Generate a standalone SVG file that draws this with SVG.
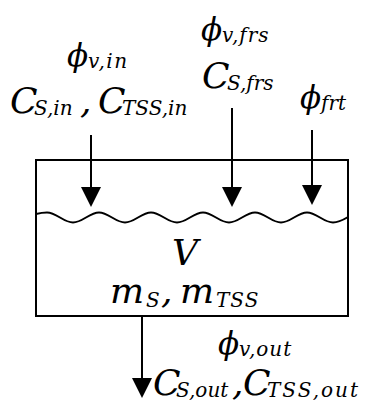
<svg xmlns="http://www.w3.org/2000/svg" width="366" height="405" viewBox="0 0 366 405">
<style>
.t{font-family:"DejaVu Serif","Liberation Serif",serif;font-style:italic;fill:#000}
.m{font-size:36px}
.p{font-size:31px}
.s{font-size:20px}
.ln{stroke:#000;stroke-width:2;fill:none}
</style>
<defs>
<marker id="ah" viewBox="0 0 20 20" refX="10" refY="10" markerWidth="20" markerHeight="20" markerUnits="userSpaceOnUse" orient="auto">
<path d="M0,0 L20,10 L0,20 z" fill="#000"/>
</marker>
</defs>
<g id="tank">
<rect x="36" y="160" width="312" height="156" class="ln"/>
<path class="ln" d="M36,214 C40,213 43,212.5 47,212.5 C56.4,212.5 63.6,222.5 73,222.5 C82.4,222.5 89.6,212.5 99,212.5 C108.4,212.5 115.6,222.5 125,222.5 C134.4,222.5 141.6,212.5 151,212.5 C160.4,212.5 167.6,222.5 177,222.5 C186.4,222.5 193.6,212.5 203,212.5 C212.4,212.5 219.6,222.5 229,222.5 C238.4,222.5 245.6,212.5 255,212.5 C264.4,212.5 271.6,222.5 281,222.5 C290.4,222.5 297.6,212.5 307,212.5 C316.4,212.5 323.6,222.5 333,222.5 C339,222.5 343,220 348,217"/>
<text class="t m" x="172" y="265">V</text>
<text class="t m" x="110" y="303">m</text>
<text class="t s" x="146" y="307">S</text>
<text class="t m" x="161" y="303">,</text>
<text class="t m" x="180" y="303">m</text>
<text class="t s" x="216" y="307" letter-spacing="1">TSS</text>
</g>
<g id="inflow">
<text class="t p" x="67" y="66">ϕ</text>
<text class="t s" x="88" y="68" letter-spacing="1.5">v,in</text>
<text class="t m" x="10" y="113">C</text>
<text class="t s" x="34" y="115">S,in</text>
<text class="t m" x="80" y="113">,</text>
<text class="t m" x="98" y="113">C</text>
<text class="t s" x="122" y="115">TSS,in</text>
</g>
<g id="fresh">
<text class="t p" x="201" y="40">ϕ</text>
<text class="t s" x="222" y="42" letter-spacing="1">v,frs</text>
<text class="t m" x="202" y="88">C</text>
<text class="t s" x="227" y="90">S,frs</text>
</g>
<g id="frt">
<text class="t p" x="300" y="108">ϕ</text>
<text class="t s" x="321" y="110">frt</text>
</g>
<g id="outflow">
<text class="t p" x="218" y="354">ϕ</text>
<text class="t s" x="239" y="356" letter-spacing="1">v,out</text>
<text class="t m" x="153" y="395">C</text>
<text class="t s" x="176" y="397">S,out</text>
<text class="t m" x="232" y="395">,</text>
<text class="t m" x="243" y="395">C</text>
<text class="t s" x="267" y="397" letter-spacing="2">TSS,out</text>
</g>
<g id="connectors">
<line class="ln" x1="91" y1="135" x2="91" y2="197" marker-end="url(#ah)"/>
<line class="ln" x1="232" y1="108" x2="232" y2="197" marker-end="url(#ah)"/>
<line class="ln" x1="312" y1="130" x2="312" y2="195" marker-end="url(#ah)"/>
<line class="ln" x1="142" y1="316" x2="142" y2="388" marker-end="url(#ah)"/>
</g>
</svg>
